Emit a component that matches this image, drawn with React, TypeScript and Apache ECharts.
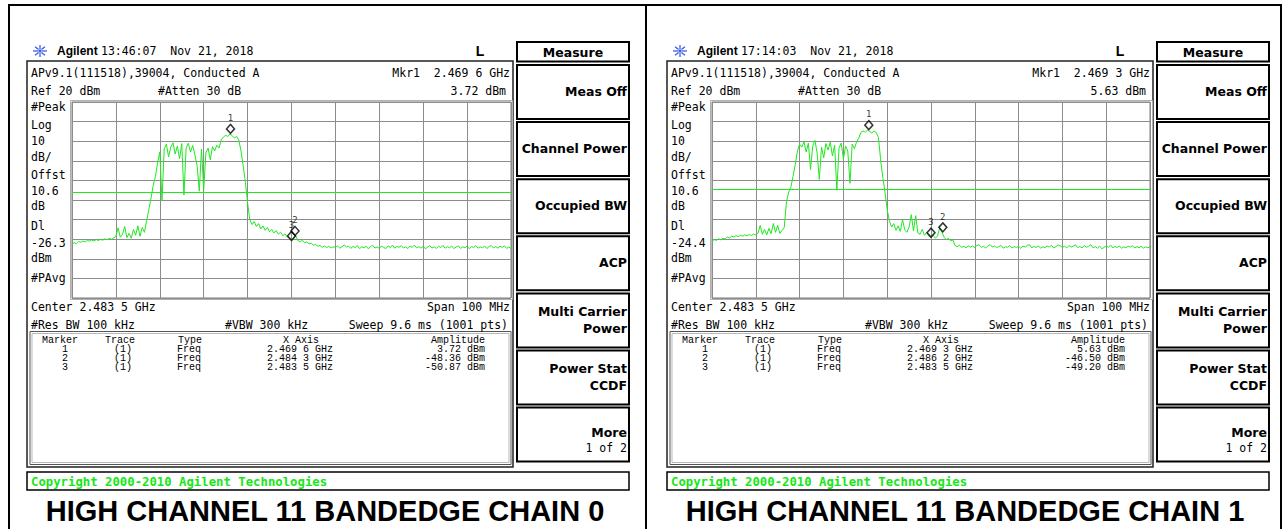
import { useEffect, useRef } from 'react';
import * as echarts from 'echarts';

// ---- sweep settings (MHz) ----
const CENTER_MHZ = 2483.5;
const SPAN_START = -50; // MHz relative to center
const STEP_MHZ = 0.5;

// ---- trace amplitudes (dBm), one value every 0.5 MHz, read from the screens ----
const CHAIN0_TRACE = [
  -52.5, -51.8, -52.3, -51.2, -51.6, -50.9, -51.4, -50.6, -51.0, -50.4,
  -50.9, -50.2, -50.7, -50.1, -50.5, -49.8, -50.3, -49.6, -50.0, -49.4,
  -48.6, -44.2, -49.0, -47.5, -43.5, -49.2, -47.0, -49.5, -45.0, -48.0,
  -43.2, -48.5, -44.0, -46.5, -40.5, -35.0, -29.0, -22.5, -18.0, -11.0,
  -5.5, -30.5, -4.0, -1.5, -8.0, -3.0, -0.8, -6.5, -2.5, -9.0,
  -1.2, -27.5, -3.5, -1.0, -5.5, -2.2, -7.0, -12.5, -25.5, -4.0,
  -24.8, -6.0, -3.5, -9.5, -2.8, -5.0, -2.0, -3.5, 0.8, 2.2,
  3.0, 2.4, 3.72, 2.8, 1.6, 2.5, 0.5, -5.0, -12.5, -21.0,
  -31.5, -40.0, -42.5, -41.0, -43.5, -42.0, -44.8, -43.2, -45.5, -44.0,
  -46.2, -45.0, -46.8, -45.6, -47.5, -46.4, -48.2, -47.3, -48.8, -49.5,
  -50.87, -49.6, -48.36, -50.8, -51.2, -50.6, -51.8, -51.3, -52.4, -52.0,
  -53.1, -52.6, -53.6, -53.2, -54.1, -53.5, -54.3, -53.6, -54.5, -53.9,
  -54.2, -53.4, -54.6, -53.8, -52.9, -54.0, -53.5, -54.7, -53.7, -54.3,
  -53.2, -54.8, -53.9, -54.4, -53.6, -54.9, -53.8, -53.1, -54.5, -54.0,
  -54.7, -53.5, -54.2, -54.8, -53.4, -54.3, -53.0, -54.6, -53.7, -54.1,
  -53.3, -54.5, -53.9, -54.8, -53.5, -54.2, -53.0, -54.4, -53.8, -54.6,
  -53.6, -54.9, -54.0, -53.3, -54.5, -53.9, -54.7, -53.6, -54.3, -53.1,
  -54.6, -53.8, -54.4, -53.5, -54.8, -54.0, -53.4, -54.7, -53.9, -54.3,
  -53.6, -54.9, -53.8, -54.2, -53.3, -54.6, -53.9, -54.4, -53.5, -54.8,
  -53.7, -53.2, -54.5, -53.8, -54.6, -53.6, -54.2, -53.4, -54.7, -54.0,
  -54.8,
];

const CHAIN1_TRACE = [
  -51.0, -50.2, -50.6, -49.8, -50.3, -49.5, -49.9, -48.8, -49.4, -48.5,
  -48.9, -48.2, -48.7, -48.0, -48.5, -47.8, -48.3, -47.6, -48.1, -47.4,
  -47.9, -47.0, -43.0, -47.5, -45.0, -47.8, -44.5, -47.2, -42.0, -46.5,
  -43.0, -47.0, -45.5, -44.0, -31.0, -26.0, -23.5, -18.0, -12.0, -5.0,
  -1.5, -3.0, -0.2, -5.5, -1.0, -14.5, -2.5, 0.4, -6.0, -19.5,
  -3.0, -8.5, -1.2, -4.5, -0.5, -7.5, -2.0, -25.0, -3.5, -1.0,
  -9.0, -2.5, -5.0, -21.5, -1.5, -3.8, -0.5, 1.5, 4.5, 5.2,
  4.6, 5.63, 5.0, 4.2, 5.3, 4.4, 2.0, -9.5, -18.5, -26.0,
  -35.0, -40.5, -43.8, -42.0, -45.5, -43.2, -46.0, -40.0, -45.2, -46.5,
  -43.8, -37.5, -45.8, -38.0, -46.8, -47.5, -45.0, -48.0, -46.5, -48.5,
  -49.2, -48.0, -49.5, -48.3, -44.0, -46.5, -49.0, -50.2, -49.5, -50.8,
  -50.3, -53.2, -53.8, -53.0, -54.2, -53.6, -54.4, -53.3, -54.0, -53.5,
  -54.3, -53.1, -52.9, -54.2, -53.6, -54.5, -53.4, -52.8, -54.0, -53.5,
  -54.3, -53.7, -53.2, -54.6, -53.9, -54.1, -53.3, -54.5, -53.8, -54.2,
  -53.6, -54.7, -53.5, -54.0, -53.2, -52.8, -54.4, -53.7, -54.2, -53.4,
  -54.6, -53.9, -54.3, -53.5, -54.0, -53.1, -54.5, -53.8, -52.9, -53.4,
  -54.2, -53.6, -54.4, -53.3, -54.0, -53.5, -52.9, -54.3, -53.7, -54.5,
  -53.2, -54.1, -53.6, -52.8, -54.4, -53.8, -54.6, -53.5, -54.9, -54.2,
  -53.4, -54.1, -53.0, -54.4, -53.7, -54.2, -53.5, -54.6, -53.9, -54.3,
  -53.6, -54.0, -53.3, -54.5, -53.8, -54.3, -53.6, -54.6, -53.9, -54.4,
  -54.0,
];

// ---- markers ----
const CHAIN0_MARKER_FREQ = [2469.6, 2484.3, 2483.5]; // MHz
const CHAIN0_MARKER_AMP = [3.72, -48.36, -50.87]; // dBm
const CHAIN1_MARKER_FREQ = [2469.3, 2486.2, 2483.5];
const CHAIN1_MARKER_AMP = [5.63, -46.5, -49.2];

// ---- per-screen texts ----
const DISPLAY_LINE = [-26.3, -24.4];
const TIMESTAMPS = ['13:46:07  Nov 21, 2018', '17:14:03  Nov 21, 2018'];
const TITLES = ['HIGH CHANNEL 11 BANDEDGE CHAIN 0', 'HIGH CHANNEL 11 BANDEDGE CHAIN 1'];
const SOFT_KEYS = [
  ['Meas Off'],
  ['Channel Power'],
  ['Occupied BW'],
  ['ACP'],
  ['Multi Carrier', 'Power'],
  ['Power Stat', 'CCDF'],
  ['More', '1 of 2'],
];

const GREEN = '#1fe81f';
const MONO = "'DejaVu Sans Mono', monospace";
const F_MAIN = `11.5px ${MONO}`;
const F_TABLE = "10px 'Liberation Mono', monospace";
const F_KEY = "bold 12.5px 'DejaVu Sans', sans-serif";

const fmtFreq = (mhz: number) => {
  const s = (mhz / 1000).toFixed(4);
  return `${s.slice(0, 5)} ${s.slice(5)}`;
};
const fmtAmp = (v: number) => `${v.toFixed(2)} dBm`;

function panelGraphics(p: number, freqs: number[], amps: number[]): any[] {
  const ox = p * 640;
  const els: any[] = [];
  const T = (x: number, y: number, text: string, o: any = {}) =>
    els.push({
      type: 'text',
      x: x + ox,
      y,
      silent: true,
      z: 10,
      style: {
        text,
        font: o.font || F_MAIN,
        fill: o.fill || '#000',
        align: o.align || 'left',
        verticalAlign: 'middle',
      },
    });
  const R = (x: number, y: number, w: number, h: number, stroke: string, lw: number) =>
    els.push({
      type: 'rect',
      silent: true,
      z: 9,
      shape: { x: x + ox, y, width: w, height: h },
      style: { fill: 'none', stroke, lineWidth: lw },
    });

  // Agilent logo (starburst)
  const cx = 40 + ox;
  const cy = 51;
  for (let k = 0; k < 8; k++) {
    const a = (k * Math.PI) / 4;
    els.push({
      type: 'line',
      silent: true,
      shape: {
        x1: cx + Math.cos(a) * 2,
        y1: cy + Math.sin(a) * 2,
        x2: cx + Math.cos(a) * 7,
        y2: cy + Math.sin(a) * 6,
      },
      style: { stroke: '#3d5ee0', lineWidth: 1.3 },
    });
  }
  els.push({ type: 'circle', silent: true, shape: { cx, cy, r: 1.6 }, style: { fill: '#3d5ee0' } });

  T(57, 51, 'Agilent', { font: "bold 12px 'Liberation Sans', Arial, sans-serif" });
  T(101, 51, TIMESTAMPS[p]);
  T(480, 51, 'L', { font: "bold 14px 'Liberation Sans', Arial, sans-serif", align: 'center' });

  // instrument frame
  R(27, 61, 486, 406, '#222', 1.5);
  R(70.5, 100.5, 442, 199, '#b0b0b0', 1);

  T(31, 73, 'APv9.1(111518),39004, Conducted A');
  T(510, 73, `Mkr1  ${fmtFreq(freqs[0])} GHz`, { align: 'right' });
  T(31, 90.5, 'Ref 20 dBm');
  T(158, 90.5, '#Atten 30 dB');
  T(506, 90.5, fmtAmp(amps[0]), { align: 'right' });

  const side: [string, number][] = [
    ['#Peak', 107],
    ['Log', 124.5],
    ['10', 140.5],
    ['dB/', 157],
    ['Offst', 175],
    ['10.6', 191],
    ['dB', 206],
    ['Dl', 226],
    [DISPLAY_LINE[p].toFixed(1), 242.5],
    ['dBm', 257.5],
    ['#PAvg', 278],
  ];
  side.forEach(([t, y]) => T(31, y, t));

  T(31, 307, 'Center 2.483 5 GHz');
  T(510, 307, 'Span 100 MHz', { align: 'right' });
  T(31, 325, '#Res BW 100 kHz');
  T(225, 325, '#VBW 300 kHz');
  T(508, 325, 'Sweep 9.6 ms (1001 pts)', { align: 'right' });

  // marker table
  R(30, 331.5, 481, 133, '#555', 1);
  R(32, 333.5, 477, 129, '#b8b8b8', 1);
  T(60, 340.5, 'Marker', { font: F_TABLE, align: 'center' });
  T(120, 340.5, 'Trace', { font: F_TABLE, align: 'center' });
  T(190, 340.5, 'Type', { font: F_TABLE, align: 'center' });
  T(301, 340.5, 'X Axis', { font: F_TABLE, align: 'center' });
  T(485, 340.5, 'Amplitude', { font: F_TABLE, align: 'right' });
  freqs.forEach((f, k) => {
    const y = 349.5 + k * 9.2;
    T(65, y, String(k + 1), { font: F_TABLE, align: 'center' });
    T(123, y, '(1)', { font: F_TABLE, align: 'center' });
    T(177, y, 'Freq', { font: F_TABLE });
    T(300, y, `${fmtFreq(f)} GHz`, { font: F_TABLE, align: 'center' });
    T(485, y, fmtAmp(amps[k]), { font: F_TABLE, align: 'right' });
  });

  // soft keys
  R(517, 42, 112, 19.5, '#000', 2);
  T(573, 52, 'Measure', { font: F_KEY, align: 'center' });
  SOFT_KEYS.forEach((lines, k) => {
    const y0 = 65 + k * 57.1;
    R(517, y0, 112, 54, '#000', 2);
    if (lines.length === 1) {
      T(627, y0 + 26, lines[0], { font: F_KEY, align: 'right' });
    } else if (k === 6) {
      T(627, y0 + 24.5, lines[0], { font: F_KEY, align: 'right' });
      T(627, y0 + 40.5, lines[1], { font: F_MAIN, align: 'right' });
    } else {
      T(627, y0 + 18, lines[0], { font: F_KEY, align: 'right' });
      T(627, y0 + 35, lines[1], { font: F_KEY, align: 'right' });
    }
  });

  // copyright bar
  R(27, 472, 602, 18, '#000', 1.5);
  T(31, 481.5, 'Copyright 2000-2010 Agilent Technologies', {
    font: `bold 12.3px ${MONO}`,
    fill: '#12e812',
  });

  // caption
  T(325, 511, TITLES[p], {
    font: "bold 29px 'Liberation Sans', Arial, sans-serif",
    align: 'center',
  });
  return els;
}

function frameGraphics(): any[] {
  const L = (x1: number, y1: number, x2: number, y2: number) => ({
    type: 'line',
    silent: true,
    shape: { x1, y1, x2, y2 },
    style: { stroke: '#000', lineWidth: 2 },
  });
  return [L(8, 5, 1282, 5), L(9, 5, 9, 529), L(646, 5, 646, 529), L(1281, 5, 1281, 529)];
}

function traceSeries(idx: number, trace: number[], dl: number) {
  return {
    type: 'line',
    xAxisIndex: idx,
    yAxisIndex: idx,
    data: trace.map((v, i) => [SPAN_START + i * STEP_MHZ, v]),
    showSymbol: false,
    symbol: 'none',
    silent: true,
    z: 3,
    lineStyle: { color: GREEN, width: 1 },
    markLine: {
      silent: true,
      symbol: ['none', 'none'],
      label: { show: false },
      lineStyle: { color: GREEN, width: 1, type: 'solid' },
      data: [{ yAxis: dl }],
    },
  };
}

function markerSeries(idx: number, freqs: number[], amps: number[]) {
  return {
    type: 'scatter',
    xAxisIndex: idx,
    yAxisIndex: idx,
    silent: true,
    z: 5,
    data: freqs.map((f, k) => ({ value: [f - CENTER_MHZ, amps[k]], name: String(k + 1) })),
    symbol: 'diamond',
    symbolSize: [8, 9],
    symbolOffset: [0, -5],
    itemStyle: { color: 'rgba(255,255,255,0)', borderColor: '#000', borderWidth: 1.5 },
    label: {
      show: true,
      position: 'top',
      distance: 1,
      formatter: (p: any) => p.name,
      fontSize: 9,
      color: '#000',
      fontFamily: MONO,
    },
  };
}

export default function App() {
  const ref = useRef<HTMLDivElement>(null);
  useEffect(() => {
    if (!ref.current) return;
    const chart = echarts.init(ref.current, undefined, { renderer: 'svg' });
    const axisX = (i: number) => ({
      type: 'value',
      gridIndex: i,
      min: -50,
      max: 50,
      interval: 10,
      axisLine: { show: false },
      axisTick: { show: false },
      axisLabel: { show: false },
      splitLine: { show: true, lineStyle: { color: '#8c8c8c', width: 1 } },
    });
    const axisY = (i: number) => ({
      type: 'value',
      gridIndex: i,
      min: -80,
      max: 20,
      interval: 10,
      axisLine: { show: false },
      axisTick: { show: false },
      axisLabel: { show: false },
      splitLine: { show: true, lineStyle: { color: '#8c8c8c', width: 1 } },
    });
    chart.setOption({
      animation: false,
      backgroundColor: '#ffffff',
      grid: [
        { left: 72, top: 102, width: 439, height: 196, show: true, borderColor: '#7a7a7a', borderWidth: 1 },
        { left: 712, top: 102, width: 438, height: 196, show: true, borderColor: '#7a7a7a', borderWidth: 1 },
      ],
      xAxis: [axisX(0), axisX(1)],
      yAxis: [axisY(0), axisY(1)],
      series: [
        traceSeries(0, CHAIN0_TRACE, DISPLAY_LINE[0]),
        traceSeries(1, CHAIN1_TRACE, DISPLAY_LINE[1]),
        markerSeries(0, CHAIN0_MARKER_FREQ, CHAIN0_MARKER_AMP),
        markerSeries(1, CHAIN1_MARKER_FREQ, CHAIN1_MARKER_AMP),
      ],
      graphic: [
        ...frameGraphics(),
        ...panelGraphics(0, CHAIN0_MARKER_FREQ, CHAIN0_MARKER_AMP),
        ...panelGraphics(1, CHAIN1_MARKER_FREQ, CHAIN1_MARKER_AMP),
      ],
    });
    return () => chart.dispose();
  }, []);
  return (
    <div
      ref={ref}
      style={{ position: 'fixed', left: 0, top: 0, width: 1283, height: 529, background: '#fff' }}
    />
  );
}
